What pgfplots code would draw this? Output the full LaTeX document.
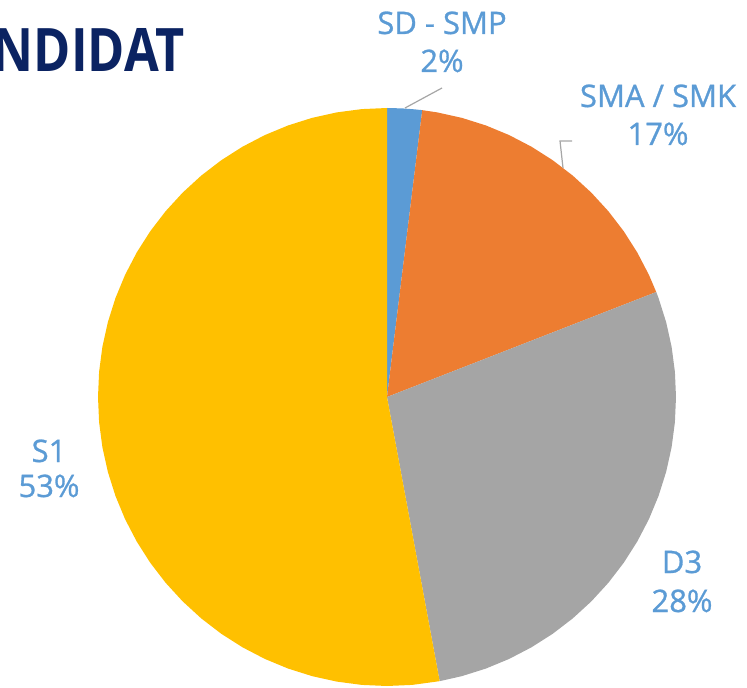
\documentclass[border=0pt]{standalone}
\usepackage{pgfplots}
\pgfplotsset{compat=1.18}
\usepgfplotslibrary{polar}
\usepackage{fontspec}
\setmainfont{Open Sans}
\newfontfamily\titlefont[FakeStretch=0.84]{Open Sans}
\newfontfamily\labelfont[FakeBold=0.9]{Open Sans}
\definecolor{cBlue}{HTML}{5B9BD5}
\definecolor{cOrange}{HTML}{ED7D31}
\definecolor{cGrey}{HTML}{A5A5A5}
\definecolor{cGold}{HTML}{FFC000}
\definecolor{cNavy}{HTML}{0B2362}
\definecolor{cLine}{HTML}{A6A6A6}
\begin{document}
\begin{tikzpicture}[x=0.5pt,y=-0.5pt]
\useasboundingbox (0,0) rectangle (747,688);
\clip (0,0) rectangle (747,688);
\begin{polaraxis}[
  hide axis, scale only axis, width=289pt, height=289pt,
  ymin=0, ymax=1, xmin=0, xmax=360,
  at={(193.5pt,-198.5pt)}, anchor=center,
  clip=false]
% SD - SMP (2%)
\addplot[draw=none, fill=cBlue] coordinates {(90,0) (90,1) (87,1) (84.5,1) (83,1) (83,0)} -- cycle;
% SMA / SMK (17%)
\addplot[draw=none, fill=cOrange] coordinates {(83,0) (83,1) (80,1) (75,1) (70,1) (65,1) (60,1) (55,1) (50,1) (45,1) (40,1) (35,1) (30,1) (25,1) (21.3,1) (21.3,0)} -- cycle;
% D3 (28%)
\addplot[draw=none, fill=cGrey] coordinates {(21.3,0) (21.3,1) (20,1) (15,1) (10,1) (5,1) (0,1) (-5,1) (-10,1) (-15,1) (-20,1) (-25,1) (-30,1) (-35,1) (-40,1) (-45,1) (-50,1) (-55,1) (-60,1) (-65,1) (-70,1) (-75,1) (-79.5,1) (-79.5,0)} -- cycle;
% S1 (53%)
\addplot[draw=none, fill=cGold] coordinates {(-79.5,0) (-79.5,1) (-85,1) (-90,1) (-95,1) (-100,1) (-105,1) (-110,1) (-115,1) (-120,1) (-125,1) (-130,1) (-135,1) (-140,1) (-145,1) (-150,1) (-155,1) (-160,1) (-165,1) (-170,1) (-175,1) (-180,1) (-185,1) (-190,1) (-195,1) (-200,1) (-205,1) (-210,1) (-215,1) (-220,1) (-225,1) (-230,1) (-235,1) (-240,1) (-245,1) (-250,1) (-255,1) (-260,1) (-265,1) (-270,1) (-270,0)} -- cycle;
\end{polaraxis}
% leader lines
\draw[cLine, line width=0.6pt] (405,108) -- (442,88);
\draw[cLine, line width=0.6pt] (563,168) -- (560,141) -- (572,141);
% title
\node[anchor=base east, inner sep=0, text=cNavy, font=\titlefont\bfseries\fontsize{30}{34}\selectfont] at (185,72) {KANDIDAT};
% labels
\begin{scope}[every node/.style={anchor=base, inner sep=0, text=cBlue, font=\labelfont\fontsize{15.5}{19}\selectfont}]
\node at (442,34) {SD - SMP};
\node at (442,72) {2\%};
\node at (658,107) {SMA / SMK};
\node at (658,145) {17\%};
\node at (49,462) {S1};
\node at (49,497) {53\%};
\node at (682,573) {D3};
\node at (682,612) {28\%};
\end{scope}
\end{tikzpicture}
\end{document}
